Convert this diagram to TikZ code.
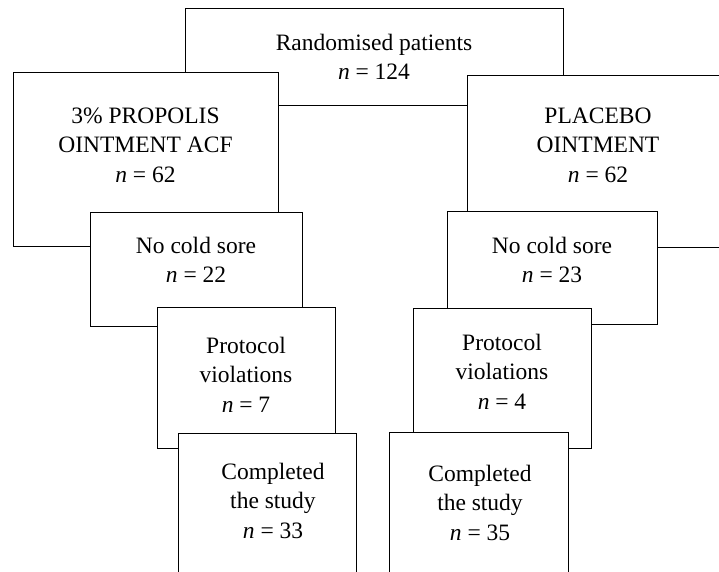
\documentclass[tikz,border=0pt]{standalone}
\usepackage{fontspec}
\setmainfont{Liberation Serif}
\newcommand\bxt[1]{\begin{tabular}[t]{@{}c@{}}#1\end{tabular}}
\tikzset{
  box/.style={draw=black, fill=white, line width=1.2pt, anchor=north west, inner sep=0pt},
  txt/.style={anchor=base, inner sep=0pt, font=\fontsize{23.5}{29.5}\selectfont}
}
\begin{document}
\begin{tikzpicture}[x=1pt,y=-1pt]
\useasboundingbox (0,0) rectangle (719,571);
\clip (0,0) rectangle (719,571);
\node[box, minimum width=378pt, minimum height=97pt] (rand) at (185,8) {};
\node[txt] (randt) at (374,50) {\bxt{Randomised patients\\ \textit{n} = 124}};
\node[box, minimum width=265pt, minimum height=174pt] (prop) at (13,72) {};
\node[txt] (propt) at (145.5,123) {\bxt{3\% PROPOLIS\\ OINTMENT ACF\\ \textit{n} = 62}};
\node[box, minimum width=280pt, minimum height=172pt] (plac) at (467,75) {};
\node[txt] (plact) at (598,123) {\bxt{PLACEBO\\ OINTMENT\\ \textit{n} = 62}};
\node[box, minimum width=212pt, minimum height=114pt] (ncl) at (90,212) {};
\node[txt] (nclt) at (196,253) {\bxt{No cold sore\\ \textit{n} = 22}};
\node[box, minimum width=210pt, minimum height=113pt] (ncr) at (447,211) {};
\node[txt] (ncrt) at (552,253) {\bxt{No cold sore\\ \textit{n} = 23}};
\node[box, minimum width=178pt, minimum height=141pt] (prl) at (157,307) {};
\node[txt] (prlt) at (246,353) {\bxt{Protocol\\ violations\\ \textit{n} = 7}};
\node[box, minimum width=178pt, minimum height=140pt] (prr) at (413,308) {};
\node[txt] (prrt) at (502,350) {\bxt{Protocol\\ violations\\ \textit{n} = 4}};
\node[box, minimum width=178pt, minimum height=170pt] (col) at (178,433) {};
\node[txt] (colt) at (273,479) {\bxt{Completed\\ the study\\ \textit{n} = 33}};
\node[box, minimum width=179pt, minimum height=170pt] (cor) at (389,432) {};
\node[txt] (cort) at (480,481) {\bxt{Completed\\ the study\\ \textit{n} = 35}};
\end{tikzpicture}
\end{document}
